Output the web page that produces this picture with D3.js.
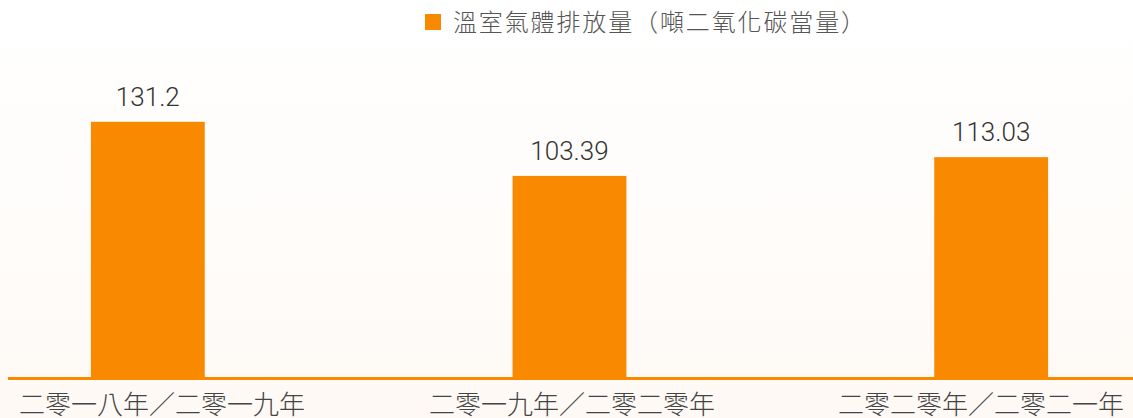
<!DOCTYPE html>
<html>
<head>
<meta charset="utf-8">
<script src="https://cdn.jsdelivr.net/npm/d3@7"></script>
<style>
  html, body { margin: 0; padding: 0; background: #fffdfb; }
  svg { display: block; }
  text { text-spacing-trim: space-all; }
</style>
</head>
<body>
<svg id="chart"></svg>
<script>
// data
const categories = ["二零一八年／二零一九年", "二零一九年／二零二零年", "二零二零年／二零二一年"];
const emissions = [131.2, 103.39, 113.03];
const valueLabels = ["131.2", "103.39", "113.03"];
const seriesName = "溫室氣體排放量（噸二氧化碳當量）";

const width = 1133, height = 418;
const orange = "#F98A00";

const svg = d3.select("#chart")
	.attr("width", width)
	.attr("height", height);

// faint warm wash toward the bottom
const defs = svg.append("defs");
const grad = defs.append("linearGradient")
	.attr("id", "bg")
	.attr("x1", 0).attr("y1", 0).attr("x2", 0).attr("y2", 1);
grad.append("stop").attr("offset", "0%").attr("stop-color", "#ffffff");
grad.append("stop").attr("offset", "100%").attr("stop-color", "#fef9f5");
svg.append("rect")
	.attr("width", width).attr("height", height)
	.attr("fill", "url(#bg)");

// scales
const xScale = d3.scaleBand()
	.domain(categories)
	.range([-63, 1202])
	.paddingInner(0.73)
	.paddingOuter(0.365);

const yScale = d3.scaleLinear()
	.domain([0, 150])
	.range([377, 85.25]);

// bars
svg.selectAll(".bar")
	.data(emissions)
	.join("rect")
	.attr("class", "bar")
	.attr("x", (d, i) => xScale(categories[i]))
	.attr("y", d => yScale(d))
	.attr("width", xScale.bandwidth())
	.attr("height", d => yScale(0) - yScale(d))
	.style("fill", orange);

// value labels
svg.selectAll(".value")
	.data(emissions)
	.join("text")
	.attr("class", "value")
	.attr("x", (d, i) => xScale(categories[i]) + xScale.bandwidth() / 2)
	.attr("y", d => yScale(d) - 16)
	.attr("text-anchor", "middle")
	.style("font-family", "Roboto, sans-serif")
	.style("font-weight", 300)
	.style("font-size", "26px")
	.style("fill", "#333")
	.text((d, i) => valueLabels[i]);

// x axis line
svg.append("line")
	.attr("x1", 8).attr("x2", width)
	.attr("y1", yScale(0) + 1.5).attr("y2", yScale(0) + 1.5)
	.style("stroke", orange)
	.style("stroke-width", 3);

// category labels
const labelX = [162, 572, 981];
svg.selectAll(".cat")
	.data(categories)
	.join("text")
	.attr("class", "cat")
	.attr("x", (d, i) => labelX[i])
	.attr("y", 414)
	.attr("text-anchor", "middle")
	.style("font-family", "'Noto Sans CJK TC', sans-serif")
	.style("font-weight", 300)
	.style("font-size", "26px")
	.style("fill", "#444")
	.text(d => d);

// legend
const legend = svg.append("g").attr("transform", "translate(425,14)");
legend.append("rect")
	.attr("width", 16).attr("height", 16)
	.style("fill", orange);
legend.append("text")
	.attr("x", 28)
	.attr("y", 8)
	.attr("dy", "0.36em")
	.attr("textLength", 412)
	.attr("lengthAdjust", "spacing")
	.style("font-family", "'Noto Sans CJK TC', sans-serif")
	.style("font-weight", 300)
	.style("font-size", "24px")
	.style("fill", "#555")
	.text(seriesName);
</script>
</body>
</html>
